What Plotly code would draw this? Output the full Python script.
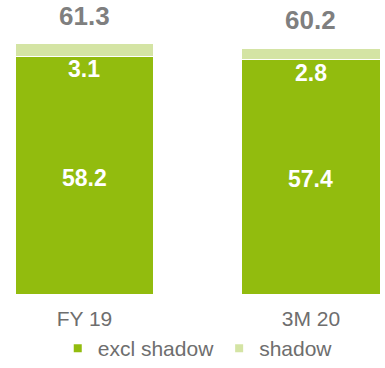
import plotly.graph_objects as go

categories = ["FY 19", "3M 20"]
excl_shadow = [58.2, 57.4]
shadow = [3.1, 2.8]
totals = [61.3, 60.2]

DARK = "#92BC0E"
LIGHT = "#D4E4A4"
GRAY = "#7F7F7F"
TICK = "#6E6E6E"
FONT = "Liberation Sans, Arial, sans-serif"

fig = go.Figure()
fig.add_trace(go.Bar(x=categories, y=excl_shadow, name="excl shadow", marker=dict(color=DARK, line=dict(color="white", width=1.5)),
                     width=0.614, showlegend=False))
fig.add_trace(go.Bar(x=categories, y=shadow, name="shadow", marker=dict(color=LIGHT, line=dict(color="white", width=1.5)),
                     width=0.614, showlegend=False))
# legend entries
fig.add_trace(go.Scatter(x=[None], y=[None], mode="markers", name="excl shadow",
                         marker=dict(symbol="square", size=8, color=DARK)))
fig.add_trace(go.Scatter(x=[None], y=[None], mode="markers", name="shadow",
                         marker=dict(symbol="square", size=8, color=LIGHT)))

annotations = []
for c, e, s, t in zip(categories, excl_shadow, shadow, totals):
    annotations.append(dict(x=c, y=t, text=f"{t:.1f}", showarrow=False, yanchor="middle", yshift=28,
                            font=dict(family=FONT, size=26, color=GRAY, weight="bold")))
    annotations.append(dict(x=c, y=e, text=f"{s:.1f}", showarrow=False, yanchor="middle", yshift=-13,
                            font=dict(family=FONT, size=23, color="white", weight="bold")))
    annotations.append(dict(x=c, y=e / 2, text=f"{e:.1f}", showarrow=False, yanchor="middle", yshift=-2,
                            font=dict(family=FONT, size=23, color="white", weight="bold")))

fig.update_layout(
    width=385, height=368,
    margin=dict(l=0, r=0, t=0, b=73, autoexpand=False),
    barmode="stack",
    paper_bgcolor="white", plot_bgcolor="white",
    annotations=annotations,
    font=dict(family=FONT, color=TICK),
    xaxis=dict(type="category", range=[-0.373, 1.327], showgrid=False, zeroline=False, showline=False,
               tickfont=dict(family=FONT, size=21, color=TICK), ticklabelstandoff=9),
    yaxis=dict(range=[0, 295 / 4.1], visible=False),
    legend=dict(orientation="h", x=0.15, xanchor="left", y=-0.112, yanchor="top", traceorder="normal",
                font=dict(family=FONT, size=21, color=TICK), itemwidth=30, tracegroupgap=0),
)

fig.write_html("out.html")
